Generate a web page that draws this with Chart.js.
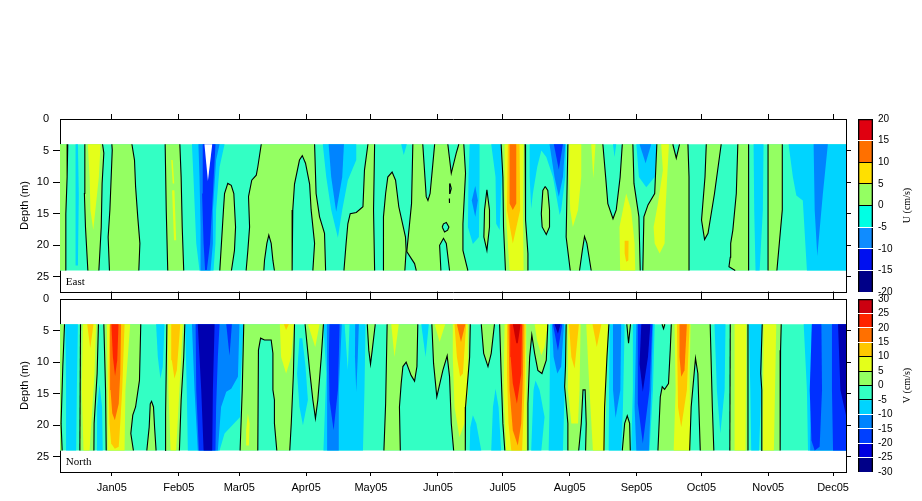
<!DOCTYPE html>
<html>
<head>
<meta charset="utf-8">
<title>U and V sections</title>
<script src="https://cdn.jsdelivr.net/npm/chart.js@4"></script>
<style>
html,body{margin:0;padding:0;background:#fff;overflow:hidden}
canvas{position:absolute}
</style>
</head>
<body>
<canvas id="panelU" width="855" height="205" style="left:0;top:100px;width:855px;height:205px"></canvas>
<canvas id="panelV" width="855" height="221" style="left:0;top:280px;width:855px;height:221px"></canvas>
<canvas id="barU" width="72" height="205" style="left:850px;top:100px;width:72px;height:205px"></canvas>
<canvas id="barV" width="72" height="221" style="left:850px;top:280px;width:72px;height:221px"></canvas>
<script>
// axis values, x is days from 1 Jan 2005, y is depth in m
const monthDays = [0,31,59,90,120,151,181,212,243,273,304,334];
const monthLabels = ['Jan05','Feb05','Mar05','Apr05','May05','Jun05','Jul05','Aug05','Sep05','Oct05','Nov05','Dec05'];
const depthTicks = [0,5,10,15,20,25];
const dayMin = -24, dayMax = 340, depthMax = 27.4, depthTop = 4, depthBottom = 24;

const uLevels = [20,15,10,5,0,-5,-10,-15,-20];
const uBarColors = ['#e00010','#ff7000','#ffe000','#94ff62','#00ffe4','#108cff','#0010f0','#000088'];
const uBlackLines = [10,5,0];
const vLevels = [30,25,20,15,10,5,0,-5,-10,-15,-20,-25,-30];
const vBarColors = ['#cc0010','#ff2400','#ff7000','#ffc800','#e4ff1a','#94ff62','#33ffc4','#00d4ff','#0084ff','#0040ff','#0000e0','#000088'];
const vBlackLines = [10,5,0,-5];

// contour regions, each list is day,depth,day,depth...
const fullBand = [-24,4,340,4,340,24,-24,24];

const uGreen = [
  [-24,4,-20.4,4,-20.7,9.2,-21.3,15,-21.3,24,-24,24],
  [-12.5,4,-4.3,4,-3.7,5.4,-4.5,10.2,-4.9,17.1,-6,24,-11.1,24,-12.2,17.1,-12.7,11.8],
  [0,4,9.3,4,10.5,6.5,11,10.7,12,15.5,13,19.7,12.5,24,-1.1,24,-1.7,18.7,-.9,14.4,.2,4.9],
  [24.7,4,31.5,4,32.1,9.2,32.6,17.1,33.3,24,25.9,24,25.2,14.4],
  [50,24,51.7,14.4,52.2,11.8,53.7,10.2,55.3,10.5,56.5,11.8,57.3,17.1,56.8,20.8,55.4,24],
  [62.2,24,63,20.8,63.8,17.1,63.3,12.3,64.8,9.7,66.9,8.9,67.6,7.6,69.2,4,93.9,4,94.6,11.8,96.2,15.5,98.5,18.1,99,24,93.1,24,93.9,19.7,92.3,14.4,91.6,10.3,89.7,7,88.2,5.8,86.9,6.5,84.6,10.3,83.8,14.4,83.5,24,75.3,24,74.6,22.4,73.8,19.7,72.7,18.4,71.8,19.7,70.7,22.4,70.4,24],
  [118.6,4,121.7,4,121.2,14.4,121.7,24,107.5,24,108.5,19.7,109.3,16.6,110.4,15,113.2,14.8,116.3,13.9,117,8.1],
  [125.8,24,125.8,15.5,126.8,11.8,127.8,9.2,129.8,8.4,131.4,9.7,132.9,13.9,136,18.7,136.3,20.8,135.7,24],
  [139.4,4,144,4,145,9.2,145.6,12.3,146.4,12.9,147.4,11.8,148.4,8.1,149.5,4,155.6,4,157.2,8.6,159.5,5.4,160.7,4,163,4,163.8,8.6,162.6,16.6,162.6,20.8,164.9,24,156.4,24,154.9,19.7,153.6,18.9,151.8,20,152.4,24,141,24,140.2,22.9,136.6,21,138.8,13.4],
  [173.7,11.2,174.9,14.4,174.9,17.1,173.7,20.8,172.3,18.7,172.6,14.4],
  [180.3,4,191.4,4,191.6,11.8,191.6,16,192.7,21.3,192.7,24,182.3,24,181.4,17.1,181.1,9.2],
  [200.7,10.7,201.9,11.3,202.7,14.4,202.7,17.1,201.2,18.3,199.3,17.1,198.9,15,199.6,11.3],
  [211.2,4,227.4,4,228.7,9.2,229.7,13.4,232.1,15.8,233.6,14.4,235.4,9.2,236.4,4,241.3,4,241.8,10.2,244.1,15.5,244.7,24,245.9,24,246.4,15.5,248.3,13.6,251.4,11.8,252.4,4,259.8,4,261.4,6.2,262.9,4,266.8,4,267.3,9.2,267.3,24,222,24,220,19.7,218.9,18.6,217.9,20.8,216.6,24,212.3,24,210.4,18.7],
  [275.3,4,274.7,9.2,273.1,16,274.5,19.1,276.1,18.1,279.1,11.8,282.2,4],
  [289.9,4,294.9,4,294.9,24,288.7,24,285.8,23.4,286.4,21.9,286.6,19.7,287.6,17.6,289.2,11.8],
  [303.9,4,310.5,4,310.5,14.4,308,24,303.9,24]
];
const uLoops = [
  [153,17.1,153.6,16.6,154.9,16.4,156.1,17.1,155.5,17.6,154.1,17.9],
  [156.6,10.2,157.2,11,156.6,11.8,156.3,11],
  [156.3,12.6,156.6,13.3,156.2,13.3]
];
const uYellow = [
  [-11.1,4,-5.2,4,-6,9.2,-7.6,14.4,-8.6,17.6,-9.9,14.4,-10.3,9.2],
  [27.5,6.5,28.2,6.5,28.9,10.2,28.2,10.2],
  [27.9,11.3,29,11.3,29.8,19.2,28.8,19.2],
  [181.9,4,190.7,4,190.4,14.4,190.7,24,184.2,24,183.4,19.7,181.9,11.8],
  [211.7,4,217.4,4,217.4,9.2,215.9,14.4,213.5,17.1,212.3,14.4,211.7,9.2],
  [222,4,224,4,223,9.4],
  [238.2,11.8,240.5,14.4,242.1,19.7,242.4,24,235.4,24,235.1,17.1],
  [254.4,4,258,4,256.4,14.4,256,19.7,253.7,21.3,251.4,19.7,250.9,17.1,252.9,13.4,255.2,8.1]
];
const uAmber = [
  [183.4,4,188.8,4,189.1,14.4,185.7,19.7,183,14.4],
  [237.5,19.3,239.3,19.3,239.2,22.4,238.2,22.6,237.5,21.3]
];
const uOrange = [[184.2,4,187.3,4,187.3,13.4,185.7,14.4,184.2,13.4]];
const uCyan = [
  [-16.8,4,-15.7,4,-15.3,12,-15.7,23.2,-16.6,23.2,-17,14,-16.6,4],
  [37.1,4,52.2,4,49.9,7.6,48.3,14.4,48,19.7,47.1,24,40.6,24,39.1,19.7,37.8,9.2],
  [97.7,4,113.2,4,113.2,6.5,109.3,9.7,106.7,14.4,104.7,18.8,101.6,14.4,99.3,9.2],
  [134,4,136.6,4,135.2,5.7],
  [165.7,4,170.3,4,170.3,9.2,170,18.7,167.2,19.8,164.9,17.1,165.2,9.2],
  [175.7,4,180.3,4,180.6,9.2,179.6,17.6,178,16.6,177.7,9.2],
  [193.5,4,210.4,4,210,9.2,208.1,14.4,207.4,15.2,204.3,9.2,201.2,6,198.9,5,197,7.6,195,11.8,194.2,14.2,193.5,9.2],
  [232.1,4,233.6,4,232.8,6],
  [242.9,4,252.4,4,251.4,9.2,247.5,10.8,244.1,9.2],
  [297.2,4,301.8,4,301.5,14.4,300,24,298.1,24,297.5,14.4],
  [313.4,4,340,4,340,24,321.9,24,320,12.9,317,12.1,315.4,9.2]
];
const uBlue = [
  [40.1,4,49.9,4,48.3,6.5,46.8,14.4,46.8,19.7,45.7,24,41.1,24,41.1,17.1,40.6,9.2],
  [100.4,4,107.5,4,106.7,9.2,103.9,14.7,101.6,9.2],
  [168.3,10.6,169.5,12.9,168.3,15.5,166.7,12.9],
  [202.7,4,210,4,208.9,9.2,207,12.3,205,9.2],
  [244.4,4,249.8,4,247.2,7],
  [325,4,331.6,4,329.3,11.8,326.7,21.7,325.5,14.4]
];
const uDeep = [
  [42.1,4,48,4,46.8,11.8,45.5,19.7,44,23.9,43.2,23.9,42.5,19.7,41.8,11.8],
  [204.7,4,208.9,4,207,8]
];
const uWhite = [[42.9,4,46.5,4,44.5,9.8]];

const vGreen = [
  [-24,4,-21.9,4,-22.7,10.7,-23.5,19.7,-23,24,-24,24],
  [-14.5,4,-6.2,4,-6.8,11.8,-8.2,19.7,-8.3,24,-14.8,24],
  [-3.7,4,13.4,4,12.8,12.9,11,17.1,9.7,18.4,8.8,21.3,10,24,-2.6,24,-2.9,14.4],
  [16.2,24,17.3,20.3,17.8,16.6,18.4,16.2,19.3,17.1,19.8,20.3,20.5,24],
  [25.5,4,33.8,4,33.3,9.2,32.1,16,31.3,24,24.7,24,24.9,18.1],
  [61.1,4,84.6,4,84.1,11.8,83.1,19.7,82.4,24,76.4,24,75.3,19.7,75.3,16,74.6,14.4,74.6,8.6,73.8,6.5,70.7,6.5,68.9,6.2,67.9,8.1,67.6,24,59.4,24,60.4,14.4],
  [89.5,4,98,4,97,9.2,95.4,16,94.3,18.9,93.1,16,91.6,11.3],
  [118.3,4,122,4,120.6,8.1,119.8,10.3,119,8.1],
  [127.5,4,141.7,4,141.3,10.7,140.2,13,138.6,12.1,136.3,10,134.8,10.7,134,13.4,133.2,17.1,133.6,24,126,24,126.8,16.6],
  [148.2,4,166,4,165.7,9.2,163.8,17.1,163.7,24,158.3,24,157.2,19.7,156.4,12.3,155.3,9,153.3,11.3,150.5,15.5,149,10.2],
  [171.1,4,177.2,4,175.7,8.6,174.2,10.7,172.2,8.6],
  [179.6,4,201.9,4,201.2,9.7,199.2,11.8,197.3,11.3,195.8,8.6,194.5,5.7,193.5,9.2,192.7,16.6,192.7,24,182,24,181.1,19.7,180.3,11.8],
  [210.4,4,230.2,4,229.3,9.2,228.2,17.1,227.9,24,219.4,24,219.7,19.7,219.2,14.4,218.2,14.4,217.4,19.7,216.2,24,211.2,24,211.2,19.7,209.7,13.9,210.1,10.7],
  [238.5,4,240.2,4,239.3,7],
  [236.4,24,237.5,19.7,238.7,18.5,239.8,19.7,240.1,24],
  [254.8,4,255.5,4.7,256.1,4],
  [259.1,4,277.1,4,278.1,17.1,278.8,24,272.5,24,271.4,11.8,270.3,9.4,268.3,17.1,267.6,24,252.9,24,254,15.5,254.9,13.9,256,14.3,257.8,13.4,258.6,8.1],
  [286.4,4,294.6,4,294.6,24,286.2,24],
  [301.2,4,310,4,309.7,8.1,309.5,24,300.8,24,301,14.4,300.5,11.8]
];
const vYellow = [
  [-13.4,4,-7.3,4,-8,11.8,-10.3,24,-13.1,24,-13.9,14.4],
  [-2.3,4,8.5,4,6.3,14.4,5.9,24,-1.9,24,-1.9,14.4],
  [25.9,4,32.9,4,31.3,14.4,29.8,24,27.2,24,26.2,14.4],
  [63,18.1,63.8,19.7,63.5,23.2,62.5,23.2,62.2,20.8],
  [77.8,4,84.3,4,83.1,9.2,80.7,11.8,78.4,9.2],
  [90.8,4,96.2,4,94.2,7.6],
  [129.4,4,132.9,4,130.9,9.2],
  [149.5,4,154.4,4,151.8,6.8],
  [157.9,4,164.9,4,164.9,14.4,163.3,19.7,161,21.9,158.7,17.1,157.9,9.2],
  [181.9,4,191.9,4,192.2,14.4,191.9,24,182.6,24,181.4,14.4],
  [195.8,4,201.9,4,200.4,7.6,198.9,8.9,196.9,6.5],
  [211.2,4,217.1,4,216.6,14.4,215.9,19.7,212.8,19.7,211.2,14.4],
  [219.7,4,229.7,4,228.2,24,222.8,24,221.2,14.4],
  [260.6,4,268,4,267.6,11.8,267.9,24,260.2,24,261.1,14.4],
  [288.4,4,293.8,4,293.5,24,288.4,24],
  [301.8,4,307.7,4,306.6,24,301.5,24]
];
const vAmber = [
  [-11.4,4,-8.5,4,-10,7.8],
  [-1.1,4,5.9,4,4.8,14.4,3.9,19.7,3.2,23.4,1.4,23.7,-.3,22.9,-1.1,19.7,-1.5,11.8],
  [27.5,4,31.7,4,30.1,11.3,29,12.6,27.8,9.7],
  [79.7,4,82,4,80.7,4.9],
  [158.7,4,164.1,4,162.6,11.8,161.3,12.3,159.8,9.2],
  [183,4,191.6,4,191.1,14.4,190,24,185,24,183.7,19.7,183,11.8],
  [211.7,4,216.3,4,214.3,11,212.8,9.2],
  [222.6,4,226.7,4,224.6,7.6],
  [261.7,4,267.6,4,266.3,14.4,263.7,20.3,262.2,17.1]
];
const vOrange = [
  [-.8,4,4.3,4,3.9,11.8,3.2,16.6,1.4,19.2,.2,18.1,-.6,14.4],
  [159.8,4,163.7,4,161.7,6.8],
  [183.7,4,190.7,4,190.4,11.8,189.6,19.7,188,23.2,185.7,20.8,184.2,14.4],
  [262.9,4,266.3,4,265.2,11.3,263.7,12.3,262.9,9.2]
];
const vRed = [
  [-.2,4,3.1,4,2.5,9.7,1.5,12.2,.5,9.2],
  [184.5,4,190,4,189.6,11.8,187.6,16.6,185.7,13.4,184.7,9.2]
];
const vDarkRed = [[185.7,4,189.3,4,188,7,187.3,7]];
const vCyan = [
  [-21.5,4,-15.7,4,-16.2,14.4,-16.5,24,-21.2,24,-21.2,14.4],
  [-5.7,13.5,-4.5,17.1,-4.2,24,-6.9,24,-6.8,17.1],
  [20.5,4,24.4,4,23.6,10.7,22.5,12.6,21.3,9.2],
  [34,4,61,4,59.4,14.4,59.4,18.7,52.2,21.3,49.9,24,35.2,24,34.7,14.4],
  [86.9,6.2,88.2,6.2,89.7,10.7,90.8,16,88.5,20,86.9,17.1,85.8,11.8],
  [98,4,117.5,4,117,14.4,116.3,24,98,24,99.3,11.8],
  [143.3,4,146.8,4,145.3,9.2],
  [165.7,24,166,20.3,167.2,18.4,168.8,19.7,171.1,24],
  [175.7,24,176.5,17.1,177.7,14.2,179.1,17.1,180.3,24],
  [194.2,24,195.3,14.4,196.2,12.9,198.1,14.4,200.4,18.7,198.9,24],
  [203,4,210,4,209.7,14.4,208.9,24,202.3,24,202.7,17.1],
  [230.5,4,237.5,4,236.7,17.1,235.9,24,230.1,24],
  [241.3,4,251.4,4,250.6,14.4,249,24,240.5,24,241.3,14.4],
  [279.1,4,284.2,4,283.8,14.4,281.8,21.3,280.2,14.4],
  [295,4,301,4,300.8,14.4,299.7,24,296.1,24,295.7,14.4],
  [320.4,4,340,4,340,24,322.4,24,321.9,14.4]
];
const vAqua = [[107.8,4,110.1,4,109.3,11.3]];
const vBlue = [
  [37.1,4,59.1,4,58.4,12.3,55.3,14.2,53,14.7,50.6,17.1,49.1,24,39.8,24,38.3,14.4],
  [99.6,4,106.5,4,105.1,14.4,105.1,24,100,24,99.7,14.4],
  [112.7,4,114.4,4,113.9,9.2,113.2,14.7,112.6,9.2],
  [203.8,4,209.4,4,208.1,10.7,206.3,11.8,204.6,9.2],
  [232.1,4,235.9,4,235.5,14.4,233.3,18.8,232.1,14.4],
  [242.9,4,250.6,4,249.8,14.4,248.7,24,242.9,24,242.1,17.1],
  [324.2,4,340,4,340,24,323.4,24]
];
const vDeep = [
  [38.8,4,49.9,4,49.1,9.2,48.3,17.1,48,24,40.3,24,39.1,14.4],
  [53,4,55.6,4,54.5,9],
  [100.8,4,105.5,4,104.7,14.4,102.7,20.8,100.8,16,100.5,9.2],
  [204.3,4,208.6,4,206.6,8.2],
  [243.6,4,250.3,4,249,14.4,245.9,22.9,243.6,16.6],
  [324.2,4,328.6,4,328.9,14.4,327.8,23.4,325.5,24,324,22.4,323.2,14.4],
  [333.5,4,340,4,340,24,334,24,333.5,14.4]
];
const vNavy = [
  [39.8,4,47.6,4,46.8,14.4,46.5,24,42.5,24,41.4,14.4],
  [205,4,207.8,4,206.6,5.5],
  [245.2,4,249.4,4,248.3,9.2,245.9,14.7,244.4,10.3],
  [336.3,4,340,4,340,18.4,337.4,14.4]
];

const uLayers = [
  [[fullBand],'#33ffc4'],[uGreen,'#94ff62'],[uLoops,'#33ffc4'],[uYellow,'#e4ff1a'],[uAmber,'#ffc800'],[uOrange,'#ff7000'],
  [uCyan,'#00d4ff'],[uBlue,'#0084ff'],[uDeep,'#0030ff'],[uWhite,'#ffffff']
];
const vLayers = [
  [[fullBand],'#33ffc4'],[vGreen,'#94ff62'],[vYellow,'#e4ff1a'],[vAmber,'#ffc800'],[vOrange,'#ff7000'],[vRed,'#ff2400'],[vDarkRed,'#cc0000'],
  [vCyan,'#00d4ff'],[vAqua,'#33ffc4'],[vBlue,'#0084ff'],[vDeep,'#0030ff'],[vNavy,'#0000b0']
];

function toPoints(flat) {
  const pts = [];
  for (let i = 0; i < flat.length; i += 2) pts.push({ x: flat[i], y: flat[i + 1] });
  pts.push({ x: flat[0], y: flat[1] });
  return pts;
}

// the plot rim is not part of a contour
function rimSegment(ctx) {
  const a = ctx.p0.parsed, b = ctx.p1.parsed;
  const onDepth = a.y === b.y && (a.y === depthTop || a.y === depthBottom);
  const onDay = a.x === b.x && (a.x === dayMin || a.x === dayMax);
  return onDepth || onDay ? 'transparent' : undefined;
}

function buildDatasets(layers, contours) {
  const sets = [];
  layers.forEach(([polys, color]) => polys.forEach(p => sets.push({
    data: toPoints(p), showLine: true, pointRadius: 0, borderWidth: 0, tension: 0,
    backgroundColor: color, borderColor: 'transparent', fill: 'shape'
  })));
  contours.forEach(p => sets.push({
    data: toPoints(p), showLine: true, pointRadius: 0, borderWidth: 1.1, tension: 0,
    borderColor: '#000', fill: false, segment: { borderColor: rimSegment }
  }));
  sets.forEach((s, i) => { s.order = sets.length - i; });
  return sets;
}

const panelLabel = {
  id: 'panelLabel',
  afterDraw(chart, args, opts) {
    const { ctx, scales } = chart;
    ctx.save();
    ctx.font = '11px "Liberation Serif"';
    ctx.fillStyle = '#000';
    ctx.textBaseline = 'middle';
    ctx.fillText(opts.text, scales.x.getPixelForValue(-21.3), scales.y.getPixelForValue(25.9));
    ctx.restore();
  }
};

function buildPanel(id, layers, contours, text, hasDates, topTick) {
  const black = '#000';
  return new Chart(document.getElementById(id), {
    type: 'scatter',
    data: { datasets: buildDatasets(layers, contours) },
    plugins: [panelLabel],
    options: {
      responsive: false, animation: false, events: [],
      layout: { padding: 0 },
      plugins: { legend: { display: false }, tooltip: { enabled: false }, panelLabel: { text } },
      scales: {
        x: {
          type: 'linear', position: 'bottom', min: dayMin, max: dayMax,
          afterBuildTicks: s => { s.ticks = hasDates ? monthDays.map(value => ({ value })) : []; },
          afterFit: s => { s.height = hasDates ? 29 : 13; },
          grid: { drawOnChartArea: false, tickColor: black, tickLength: 4 },
          border: { color: black },
          ticks: {
            display: hasDates, autoSkip: false, maxRotation: 0, color: black, padding: 5,
            font: { family: 'Liberation Sans', size: 11 },
            callback: v => monthLabels[monthDays.indexOf(v)]
          }
        },
        xTop: {
          axis: 'x', type: 'linear', position: 'top', min: dayMin, max: dayMax,
          afterBuildTicks: s => { s.ticks = monthDays.map(value => ({ value })); },
          afterFit: s => { s.height = 19; },
          grid: { drawOnChartArea: false, tickColor: black, tickLength: topTick },
          border: { color: black },
          ticks: { display: false }
        },
        y: {
          type: 'linear', position: 'left', reverse: true, min: 0, max: depthMax,
          afterBuildTicks: s => { s.ticks = depthTicks.map(value => ({ value })); },
          afterFit: s => { s.width = 60; },
          grid: { drawOnChartArea: false, tickLength: 7, tickColor: c => c.tick.value === 0 ? 'transparent' : black },
          border: { color: black },
          ticks: { color: black, padding: 4, font: { family: 'Liberation Sans', size: 11 } },
          title: { display: true, text: 'Depth (m)', color: black, padding: { top: 18, bottom: 0 }, font: { family: 'Liberation Sans', size: 11 } }
        },
        yRight: {
          axis: 'y', type: 'linear', position: 'right', reverse: true, min: 0, max: depthMax,
          afterBuildTicks: s => { s.ticks = depthTicks.map(value => ({ value })); },
          afterFit: s => { s.width = 9; },
          grid: { drawOnChartArea: false, tickLength: 5, tickColor: c => c.tick.value === 0 ? 'transparent' : black },
          border: { color: black },
          ticks: { display: false }
        }
      }
    }
  });
}

const barTitle = {
  id: 'barTitle',
  afterDraw(chart, args, opts) {
    const { ctx, chartArea } = chart;
    ctx.save();
    ctx.translate(57, (chartArea.top + chartArea.bottom) / 2);
    ctx.rotate(-Math.PI / 2);
    ctx.font = '10px "Liberation Serif"';
    ctx.fillStyle = '#000';
    ctx.textAlign = 'center';
    ctx.textBaseline = 'middle';
    ctx.fillText(opts.text, 0, 0);
    ctx.restore();
  }
};

function buildBar(id, levels, colors, blackLines, text, padBottom) {
  const top = levels[0], bottom = levels[levels.length - 1];
  const frame = {
    data: [[bottom, top]], backgroundColor: 'transparent', borderColor: '#000', borderWidth: 1,
    barPercentage: 1, categoryPercentage: 1, grouped: false
  };
  const bands = colors.map((c, i) => ({
    data: [[levels[i + 1], levels[i]]], backgroundColor: c,
    barPercentage: 1, categoryPercentage: 1, grouped: false
  }));
  return new Chart(document.getElementById(id), {
    type: 'bar',
    data: { labels: [''], datasets: [frame].concat(bands) },
    plugins: [barTitle],
    options: {
      responsive: false, animation: false, events: [],
      layout: { padding: { left: 8, top: 19, bottom: padBottom } },
      plugins: { legend: { display: false }, tooltip: { enabled: false }, barTitle: { text } },
      scales: {
        x: { display: false },
        y: {
          position: 'right', min: bottom, max: top,
          afterBuildTicks: s => { s.ticks = levels.map(value => ({ value })); },
          afterFit: s => { s.width = 49; },
          border: { display: false },
          grid: {
            z: 1, drawTicks: false, lineWidth: 1,
            color: c => {
              const v = c.tick.value;
              if (v === top || v === bottom) return 'transparent';
              return blackLines.includes(v) ? '#000' : '#fff';
            }
          },
          ticks: { color: '#000', padding: 5, autoSkip: false, font: { family: 'Liberation Sans', size: 10 } }
        }
      }
    }
  });
}

buildPanel('panelU', uLayers, uGreen.concat(uLoops), 'East', false, 5);
buildPanel('panelV', vLayers, vGreen, 'North', true, 7.5);
buildBar('barU', uLevels, uBarColors, uBlackLines, 'U (cm/s)', 13);
buildBar('barV', vLevels, vBarColors, vBlackLines, 'V (cm/s)', 29);
</script>
</body>
</html>
